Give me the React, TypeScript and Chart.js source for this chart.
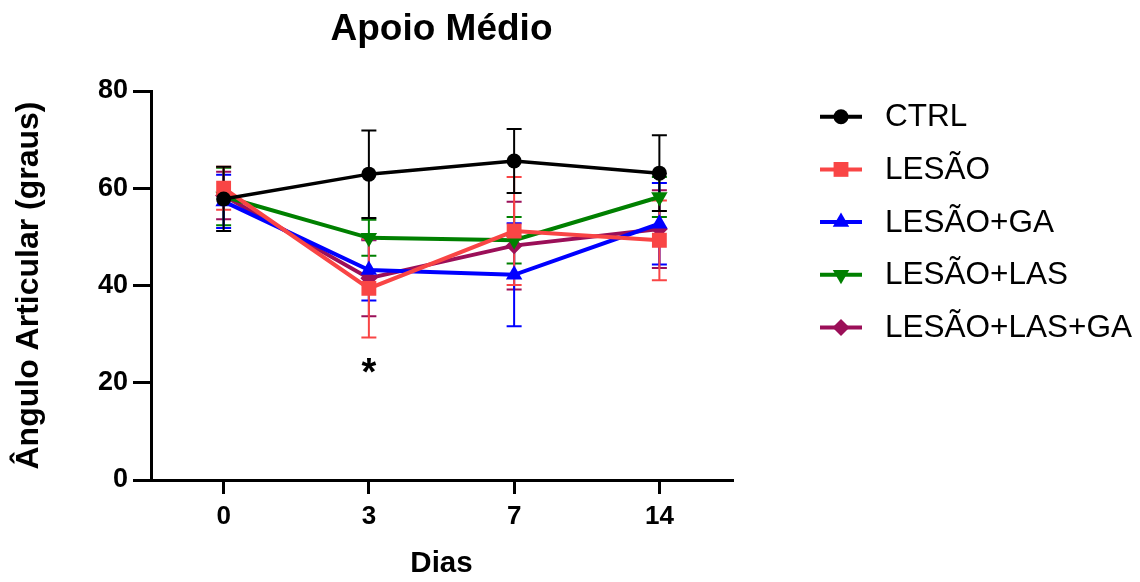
import React, { useEffect, useRef } from 'react';
import { Chart, registerables } from 'chart.js';

Chart.register(...registerables);

// ---- data ----
const days = ['0', '3', '7', '14'];
const seriesNames = ['CTRL', 'LESÃO', 'LESÃO+GA', 'LESÃO+LAS', 'LESÃO+LAS+GA'];

const ctrlMean = [57.8, 62.9, 65.6, 63.1];
const ctrlErr = [6.6, 9.0, 6.6, 7.8];

const lesaoMean = [60.0, 39.4, 51.2, 49.3];
const lesaoErr = [4.4, 10.1, 11.1, 8.2];

const gaMean = [57.3, 43.2, 42.2, 52.7];
const gaErr = [5.5, 6.3, 10.6, 8.4];

const lasMean = [58.3, 49.8, 49.3, 58.2];
const lasErr = [5.9, 3.7, 4.8, 4.1];

const lasGaMean = [58.5, 41.5, 48.2, 51.6];
const lasGaErr = [4.9, 7.8, 9.0, 8.0];

const yTicks = [0, 20, 40, 60, 80];

const significanceLabel = '*';
const significanceDay = '3';
const significanceValue = 19.5;

const title = 'Apoio Médio';
const xTitle = 'Dias';
const yTitle = 'Ângulo Articular (graus)';

// ---- styles ----
const colors = ['#000000', '#F94545', '#0000FF', '#008000', '#9B0F58'];
const pointStyles = ['circle', 'rect', 'triangle', 'triangle', 'rectRot'];
const pointRotations = [0, 0, 0, 180, 0];
const pointRadii = [7.5, 10.5, 9.5, 9.5, 8.5];
const lineWidths = [3.5, 4, 4, 4, 4];
const FONT = "'Liberation Sans', Arial, Helvetica, sans-serif";

const means = [ctrlMean, lesaoMean, gaMean, lasMean, lasGaMean];
const errs = [ctrlErr, lesaoErr, gaErr, lasErr, lasGaErr];

function drawMarker(ctx: CanvasRenderingContext2D, style: string, x: number, y: number, r: number, rotation: number) {
  ctx.save();
  ctx.translate(x, y);
  ctx.rotate((rotation * Math.PI) / 180);
  ctx.beginPath();
  if (style === 'circle') {
    ctx.arc(0, 0, r, 0, Math.PI * 2);
  } else if (style === 'rect') {
    const s = Math.SQRT1_2 * r;
    ctx.rect(-s, -s, 2 * s, 2 * s);
  } else if (style === 'triangle') {
    for (let k = 0; k < 3; k++) {
      const a = -Math.PI / 2 + (k * 2 * Math.PI) / 3;
      const px = Math.cos(a) * r;
      const py = Math.sin(a) * r;
      if (k === 0) ctx.moveTo(px, py);
      else ctx.lineTo(px, py);
    }
    ctx.closePath();
  } else if (style === 'rectRot') {
    ctx.moveTo(0, -r);
    ctx.lineTo(r, 0);
    ctx.lineTo(0, r);
    ctx.lineTo(-r, 0);
    ctx.closePath();
  }
  ctx.fill();
  ctx.restore();
}

const errorBarPlugin = {
  id: 'errorBars',
  beforeDatasetsDraw(chart: any) {
    const ctx = chart.ctx as CanvasRenderingContext2D;
    const yScale = chart.scales.y;
    for (let i = chart.data.datasets.length - 1; i >= 0; i--) {
      const ds = chart.data.datasets[i];
      const meta = chart.getDatasetMeta(i);
      ctx.save();
      ctx.strokeStyle = ds.borderColor;
      ctx.lineWidth = 2;
      meta.data.forEach((pt: any, j: number) => {
        const m = ds.data[j];
        const e = ds.errors[j];
        const x = pt.x;
        const yT = yScale.getPixelForValue(m + e);
        const yB = yScale.getPixelForValue(m - e);
        const cw = 7.5;
        ctx.beginPath();
        ctx.moveTo(x, yT);
        ctx.lineTo(x, yB);
        ctx.moveTo(x - cw, yT);
        ctx.lineTo(x + cw, yT);
        ctx.moveTo(x - cw, yB);
        ctx.lineTo(x + cw, yB);
        ctx.stroke();
      });
      ctx.restore();
    }
  },
};

const decorPlugin = {
  id: 'decor',
  afterDraw(chart: any) {
    const ctx = chart.ctx as CanvasRenderingContext2D;
    const area = chart.chartArea;
    ctx.save();
    // title
    ctx.fillStyle = '#000';
    ctx.font = `bold 37px ${FONT}`;
    ctx.textAlign = 'center';
    ctx.textBaseline = 'alphabetic';
    ctx.fillText(title, (area.left + area.right) / 2, 40);

    // significance mark
    const sx = chart.scales.x.getPixelForValue(days.indexOf(significanceDay));
    const sy = chart.scales.y.getPixelForValue(significanceValue);
    ctx.font = `bold 38px ${FONT}`;
    ctx.fillText(significanceLabel, sx, sy);

    // legend
    const lx0 = 820;
    const lx1 = 862;
    const ly0 = 116.7;
    const lstep = 52.7;
    chart.data.datasets.forEach((ds: any, i: number) => {
      const y = ly0 + i * lstep;
      ctx.strokeStyle = colors[i];
      ctx.fillStyle = colors[i];
      ctx.lineWidth = 4;
      ctx.beginPath();
      ctx.moveTo(lx0, y);
      ctx.lineTo(lx1, y);
      ctx.stroke();
      drawMarker(ctx, pointStyles[i], (lx0 + lx1) / 2, y, pointRadii[i], pointRotations[i]);
      ctx.fillStyle = '#000';
      ctx.font = `31.5px ${FONT}`;
      ctx.textAlign = 'left';
      ctx.textBaseline = 'middle';
      ctx.fillText(ds.label, 885, y + 1);
    });
    ctx.restore();
  },
};

export default function App() {
  const canvasRef = useRef<HTMLCanvasElement | null>(null);

  useEffect(() => {
    if (!canvasRef.current) return;
    const datasets = seriesNames.map((name, i) => ({
      label: name,
      data: means[i],
      errors: errs[i],
      borderColor: colors[i],
      backgroundColor: colors[i],
      borderWidth: lineWidths[i],
      pointStyle: pointStyles[i],
      pointRotation: pointRotations[i],
      pointRadius: pointRadii[i],
      pointBackgroundColor: colors[i],
      pointBorderColor: colors[i],
      pointBorderWidth: 0,
      tension: 0,
      fill: false,
    }));

    const chart = new Chart(canvasRef.current, {
      type: 'line',
      data: { labels: days, datasets: datasets as any },
      plugins: [errorBarPlugin, decorPlugin],
      options: {
        animation: false,
        responsive: false,
        devicePixelRatio: 1,
        layout: { padding: { top: 91, right: 408, left: 0, bottom: 0 } },
        plugins: {
          legend: { display: false },
          title: { display: false },
          tooltip: { enabled: false },
        },
        scales: {
          x: {
            type: 'category',
            offset: true,
            border: { display: true, color: '#000', width: 3 },
            grid: {
              display: true,
              drawOnChartArea: false,
              drawTicks: true,
              tickLength: 14,
              color: '#000',
              lineWidth: 3,
              offset: false,
            },
            ticks: {
              color: '#000',
              padding: 7,
              font: { family: FONT, size: 26, weight: 'bold' },
            },
            title: {
              display: true,
              text: xTitle,
              color: '#000',
              padding: { top: 0, bottom: 0 },
              font: { family: FONT, size: 29.5, weight: 'bold' },
            },
            afterFit: (scale: any) => {
              scale.height = 102;
            },
          },
          y: {
            min: 0,
            max: 80,
            afterBuildTicks: (scale: any) => {
              scale.ticks = yTicks.map((v) => ({ value: v }));
            },
            border: { display: true, color: '#000', width: 3 },
            grid: {
              display: true,
              drawOnChartArea: false,
              drawTicks: true,
              tickLength: 18,
              color: '#000',
              lineWidth: 3,
            },
            ticks: {
              color: '#000',
              padding: 5,
              font: { family: FONT, size: 27, weight: 'bold' },
            },
            title: {
              display: true,
              text: yTitle,
              color: '#000',
              padding: { top: 10, bottom: 0 },
              font: { family: FONT, size: 32, weight: 'bold' },
            },
            afterFit: (scale: any) => {
              scale.width = 151;
            },
          },
        },
      } as any,
    });
    return () => chart.destroy();
  }, []);

  return (
    <div style={{ position: 'absolute', left: 0, top: 0, width: 1140, height: 582, background: '#fff' }}>
      <canvas ref={canvasRef} width={1140} height={582} style={{ width: 1140, height: 582, display: 'block' }} />
    </div>
  );
}
